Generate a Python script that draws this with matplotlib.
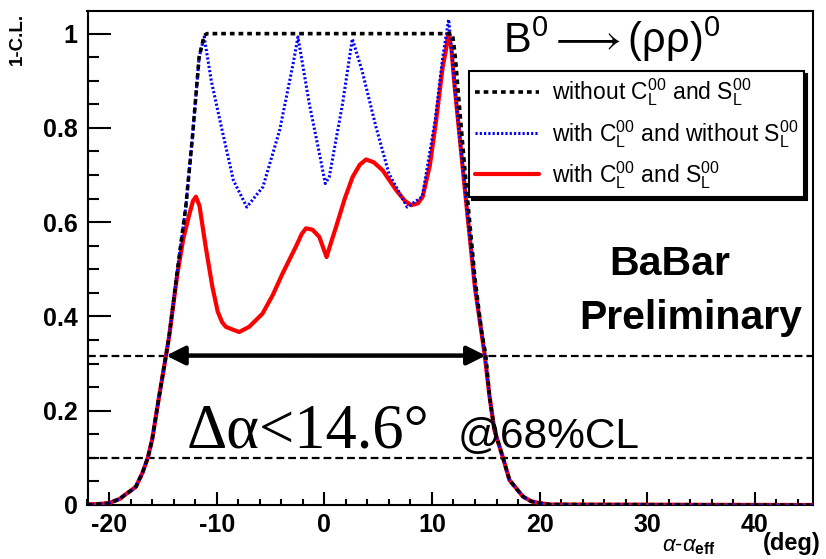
import matplotlib
matplotlib.use("Agg")
import matplotlib.pyplot as plt

plt.rcParams['font.family'] = ['Liberation Sans', 'DejaVu Sans']
plt.rcParams['mathtext.fontset'] = 'custom'
plt.rcParams['mathtext.rm'] = 'Liberation Sans'
plt.rcParams['mathtext.it'] = 'Liberation Sans:italic'
plt.rcParams['mathtext.bf'] = 'Liberation Sans:bold'
plt.rcParams['axes.unicode_minus'] = False

# ---------------- data ----------------
x_without = [-22, -21, -20, -19, -18.5, -18, -17.5, -16.9, -16.4, -16.0, -15.35, -14.7, -14.42,
             -13.65, -12.87, -12.25, -11.63, -11.16, -10.9, 11.3, 11.9, 12.1, 12.25, 12.4, 13.1,
             14.0, 14.6, 15.0, 15.35, 15.8, 16.6, 17.2, 18.45, 19.2, 20, 21, 45.4]
y_without = [0.001, 0.002, 0.004, 0.013, 0.022, 0.03, 0.039, 0.068, 0.1, 0.138, 0.23, 0.318, 0.357,
             0.498, 0.632, 0.781, 0.950, 0.996, 1.0, 1.0, 1.0, 0.965, 0.93, 0.887, 0.70,
             0.48, 0.37, 0.318, 0.23, 0.159, 0.1, 0.053, 0.018, 0.008, 0.004, 0.001, 0.0]

x_with_c = [-22, -21, -20, -19, -18.5, -18, -17.5, -16.9, -16.4, -16.0, -15.35, -14.7, -14.42,
            -13.65, -12.87, -12.25, -11.63, -11.16, -10.5, -9.7, -8.45, -7.2, -5.7, -4.15, -2.9,
            -2.45, -1.4, -0.46, 0.09, 0.46, 1.7, 2.6, 3.5, 4.8, 6.0, 7.7, 9.1, 10.3, 11.0,
            11.55, 11.8, 12.1, 13.1, 14.0, 14.57, 14.9, 15.35, 15.8, 16.6, 17.2, 18.45, 19.2,
            20, 21, 45.4]
y_with_c = [0.001, 0.002, 0.004, 0.013, 0.022, 0.03, 0.039, 0.068, 0.1, 0.138, 0.23, 0.318, 0.357,
            0.498, 0.632, 0.781, 0.950, 0.993, 0.90, 0.816, 0.689, 0.632, 0.675, 0.795, 0.936,
            0.993, 0.852, 0.746, 0.682, 0.696, 0.852, 0.989, 0.922, 0.802, 0.703, 0.632, 0.654,
            0.816, 0.95, 1.03, 0.97, 0.89, 0.66, 0.46, 0.371, 0.318, 0.23, 0.159, 0.1, 0.053,
            0.018, 0.008, 0.004, 0.001, 0.0]

x_with_cs = [-22, -21, -20, -19, -18.5, -18, -17.5, -16.9, -16.4, -16.0, -15.35, -14.7, -14.42,
             -13.65, -13.1, -12.56, -12.2, -11.93, -11.6, -11.3, -11.0, -10.4, -9.9, -9.5, -9.15,
             -8.5, -7.91, -6.98, -5.74, -4.8, -3.88, -2.6, -2.1, -1.7, -1.1, -0.47, 0.21, 0.6, 1.09,
             1.9, 2.63, 3.3, 3.88, 4.6, 5.42, 6.67, 7.5, 8.07, 8.7, 9.14, 9.8, 10.39, 11.0, 11.3,
             11.5, 11.8, 12.1, 13.1, 14.0, 14.57, 14.9, 15.35, 15.8, 16.6, 17.2, 18.45, 19.2, 20,
             21, 45.4]
y_with_cs = [0.001, 0.002, 0.004, 0.013, 0.022, 0.03, 0.039, 0.068, 0.1, 0.138, 0.23, 0.318, 0.357,
             0.49, 0.565, 0.615, 0.645, 0.654, 0.635, 0.59, 0.545, 0.463, 0.41, 0.388, 0.378,
             0.372, 0.367, 0.378, 0.406, 0.445, 0.491, 0.55, 0.575, 0.587, 0.584, 0.569, 0.526,
             0.555, 0.590, 0.65, 0.696, 0.722, 0.733, 0.727, 0.710, 0.668, 0.645, 0.636, 0.64,
             0.654, 0.72, 0.816, 0.93, 0.965, 1.0, 0.97, 0.89, 0.66, 0.46, 0.371, 0.318, 0.23,
             0.159, 0.1, 0.053, 0.018, 0.008, 0.004, 0.001, 0.0]

cl_levels = [0.317, 0.1]
interval = [-14.7, 15.0]

labels = [r'without $\mathregular{C_L^{00}}$ and $\mathregular{S_L^{00}}$',
          r'with $\mathregular{C_L^{00}}$ and without $\mathregular{S_L^{00}}$',
          r'with $\mathregular{C_L^{00}}$ and $\mathregular{S_L^{00}}$']

# ---------------- figure ----------------
W, H = 826, 559
fig = plt.figure(figsize=(W / 100, H / 100), dpi=100)
def fx(p): return p / W
def fy(p): return 1 - p / H

ax = fig.add_axes([fx(87.5), fy(505), fx(813) - fx(87.5), fy(11) - fy(505)])
ax.set_xlim(-22, 45.4)
ax.set_ylim(0, 1.048)

for lv in cl_levels:
    ax.axhline(lv, color='black', lw=1.6, linestyle=(0, (3.5, 1.8)), zorder=2)

l_red, = ax.plot(x_with_cs, y_with_cs, color='#ff0000', lw=3, zorder=3,
                 solid_joinstyle='round', solid_capstyle='round')
l_blue, = ax.plot(x_with_c, y_with_c, color='#0000ff', lw=2.2, linestyle=(0, (0.7, 0.7)), zorder=4)
l_black, = ax.plot(x_without, y_without, color='black', lw=2.6, linestyle=(0, (1.3, 1.1)), zorder=5)

ax.annotate('', xy=(interval[1], cl_levels[0]), xytext=(interval[0], cl_levels[0]),
            arrowprops=dict(arrowstyle='<|-|>', lw=3.2, color='black', mutation_scale=28,
                            shrinkA=0, shrinkB=0), zorder=6)

# axes style
for s in ['top', 'right', 'left', 'bottom']:
    ax.spines[s].set_linewidth(1.5)
ax.set_xticks([-20, -10, 0, 10, 20, 30, 40])
ax.set_xticks([v for v in range(-22, 46, 2)], minor=True)
ax.set_yticks([0, 0.2, 0.4, 0.6, 0.8, 1.0])
ax.set_yticklabels(['0', '0.2', '0.4', '0.6', '0.8', '1'])
ax.set_yticks([i * 0.05 for i in range(21)], minor=True)
ax.tick_params(axis='both', which='both', direction='in', top=False, right=False, width=1.5)
ax.tick_params(axis='y', which='major', length=16.5, pad=7)
ax.tick_params(axis='y', which='minor', length=8)
ax.tick_params(axis='x', which='major', length=9.5, pad=6)
ax.tick_params(axis='x', which='minor', length=4.5)
for lab in ax.get_xticklabels() + ax.get_yticklabels():
    lab.set_fontsize(18)
    lab.set_fontweight('bold')

# legend
leg = ax.legend([l_black, l_blue, l_red], labels, loc='upper left',
                bbox_to_anchor=(fx(469), fy(71)), bbox_transform=fig.transFigure,
                fontsize=16.5, frameon=True, fancybox=False, borderaxespad=0,
                handlelength=2.8, handletextpad=0.55, labelspacing=0.42,
                borderpad=0.25, shadow={'color': 'black', 'alpha': 1})
leg.get_frame().set_edgecolor('black')
leg.get_frame().set_linewidth(1.5)
leg.set_zorder(10)

# texts
fig.text(fx(503), fy(53), r'B$^{\mathregular{0}}\longrightarrow$(ρρ)$^{\mathregular{0}}$',
         fontsize=30, va='baseline', ha='left')
fig.text(fx(670), fy(275), 'BaBar', fontsize=29.5, fontweight='bold', ha='center', va='baseline')
fig.text(fx(691), fy(329), 'Preliminary', fontsize=29.5, fontweight='bold', ha='center', va='baseline')
fig.text(fx(187), fy(448), 'Δα<14.6°', fontsize=45, family=['Liberation Serif', 'DejaVu Serif'],
         ha='left', va='baseline')
fig.text(fx(458), fy(448), '@68%CL', fontsize=30.5, ha='left', va='baseline')

fig.text(fx(716), fy(551), r'$\alpha$-$\alpha_{\mathbf{eff}}$', fontsize=16, ha='right',
         va='baseline')
fig.text(fx(821), fy(550), '(deg)', fontsize=17, fontweight='bold', ha='right', va='baseline')
fig.text(fx(17), fy(13), '1-C.L.', fontsize=13.5, fontweight='bold', rotation=90,
         ha='center', va='top')

fig.savefig('out.png', dpi=100)
